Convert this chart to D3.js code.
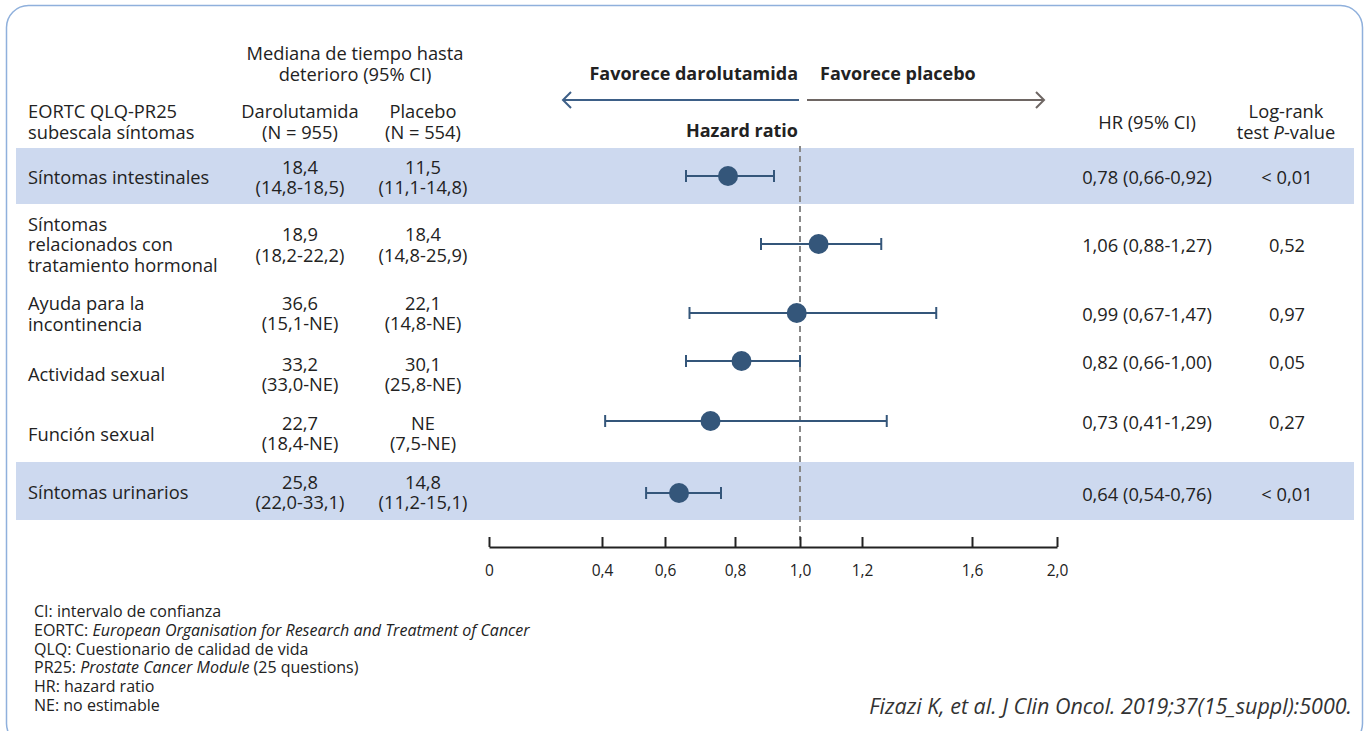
<!DOCTYPE html>
<html>
<head>
<meta charset="utf-8">
<script src="https://cdn.jsdelivr.net/npm/d3@7/dist/d3.min.js"></script>
<style>
  html, body { margin: 0; padding: 0; background: #fff; }
  svg { display: block; font-family: "Open Sans", "Noto Sans", sans-serif; }
</style>
</head>
<body>
<svg id="chart" width="1369" height="731"></svg>
<script>
// datos
var labels = [
    ['Síntomas intestinales'],
    ['Síntomas', 'relacionados con', 'tratamiento hormonal'],
    ['Ayuda para la', 'incontinencia'],
    ['Actividad sexual'],
    ['Función sexual'],
    ['Síntomas urinarios']
];
var daroMedian = ['18,4', '18,9', '36,6', '33,2', '22,7', '25,8'];
var daroCI = ['(14,8-18,5)', '(18,2-22,2)', '(15,1-NE)', '(33,0-NE)', '(18,4-NE)', '(22,0-33,1)'];
var placMedian = ['11,5', '18,4', '22,1', '30,1', 'NE', '14,8'];
var placCI = ['(11,1-14,8)', '(14,8-25,9)', '(14,8-NE)', '(25,8-NE)', '(7,5-NE)', '(11,2-15,1)'];
var hr = [0.78, 1.06, 0.99, 0.82, 0.73, 0.64];
var hrLow = [0.66, 0.88, 0.67, 0.66, 0.41, 0.54];
var hrHigh = [0.92, 1.27, 1.47, 1.00, 1.29, 0.76];
var pValues = ['< 0,01', '0,52', '0,97', '0,05', '0,27', '< 0,01'];
var shaded = [true, false, false, false, false, true];
var tickValues = [0, 0.4, 0.6, 0.8, 1.0, 1.2, 1.6, 2.0];
var footnotes = [
    [['CI: ', false], ['intervalo de confianza', false]],
    [['EORTC: ', false], ['European Organisation for Research and Treatment of Cancer', true]],
    [['QLQ: ', false], ['Cuestionario de calidad de vida', false]],
    [['PR25: ', false], ['Prostate Cancer Module', true], [' (25 questions)', false]],
    [['HR: ', false], ['hazard ratio', false]],
    [['NE: ', false], ['no estimable', false]]
];

var svg = d3.select('#chart');
var textColor = '#222';
var navy = '#34567a';
var fs = 18.3;

// marco redondeado
svg.append('rect')
    .attr('x', 6.5).attr('y', 5.5)
    .attr('width', 1356).attr('height', 740)
    .attr('rx', 22)
    .attr('fill', 'none')
    .attr('stroke', '#8fb0dc')
    .attr('stroke-width', 1.5);

// filas (alturas desiguales como en el original)
var rowTops = [148, 204, 283, 343, 403, 462, 520];
var dotY = [176, 244, 313, 361, 421, 493];

// escala del eje (no lineal en el original, por tramos)
var x = d3.scaleLinear()
    .domain(tickValues)
    .range([489, 602, 665, 735, 800, 862, 972, 1057]);

var fmt = function(v) { return d3.format('.2f')(v).replace('.', ','); };

// bandas sombreadas
svg.append('g').selectAll('rect')
    .data(d3.range(labels.length).filter(function(i) { return shaded[i]; }))
    .enter().append('rect')
    .attr('x', 16).attr('width', 1338)
    .attr('y', function(i) { return rowTops[i]; })
    .attr('height', function(i) { return rowTops[i + 1] - rowTops[i]; })
    .attr('fill', '#cdd9ef');

function addText(x0, y0, str, opts) {
    opts = opts || {};
    return svg.append('text')
        .attr('x', x0).attr('y', y0)
        .attr('text-anchor', opts.anchor || 'start')
        .attr('font-size', opts.size || fs)
        .attr('font-weight', opts.weight || 'normal')
        .attr('font-style', opts.style || 'normal')
        .attr('fill', opts.fill || textColor)
        .attr('dominant-baseline', 'central')
        .text(str);
}

// cabeceras
addText(355, 52, 'Mediana de tiempo hasta', {anchor: 'middle'});
addText(355, 73, 'deterioro (95% CI)', {anchor: 'middle'});
addText(28, 110, 'EORTC QLQ-PR25');
addText(28, 131, 'subescala síntomas');
addText(300, 110, 'Darolutamida', {anchor: 'middle'});
addText(300, 131, '(N = 955)', {anchor: 'middle'});
addText(423, 110, 'Placebo', {anchor: 'middle'});
addText(423, 131, '(N = 554)', {anchor: 'middle'});
addText(1147, 121, 'HR (95% CI)', {anchor: 'middle'});
addText(1286, 110, 'Log-rank', {anchor: 'middle'});
var pv = addText(1286, 131, 'test ', {anchor: 'middle'});
pv.append('tspan').attr('font-style', 'italic').text('P');
pv.append('tspan').text('-value');

addText(798, 73, 'Favorece darolutamida', {anchor: 'end', weight: 'bold', size: 18});
addText(820, 73, 'Favorece placebo', {weight: 'bold', size: 18});
addText(798, 130, 'Hazard ratio', {anchor: 'end', weight: 'bold', size: 18});

// flechas
svg.append('path')
    .attr('d', 'M799,100H563M571,92L563,100L571,108')
    .attr('fill', 'none').attr('stroke', '#3d5f87').attr('stroke-width', 2);
svg.append('path')
    .attr('d', 'M807,100H1044M1036,92L1044,100L1036,108')
    .attr('fill', 'none').attr('stroke', '#6e6663').attr('stroke-width', 2);

// texto de filas
labels.forEach(function(lines, i) {
    var cy = (rowTops[i] + rowTops[i + 1]) / 2;
    if (i === 3) cy = 373;
    if (i === 4) cy = 433;
    var start = cy - (lines.length - 1) * 20.5 / 2;
    lines.forEach(function(l, k) { addText(28, start + k * 20.5, l); });
    var vy = (i === 2) ? 312 : cy;
    if (i === 3) vy = 373;
    if (i === 4) vy = 432;
    addText(300, vy - 10, daroMedian[i], {anchor: 'middle'});
    addText(300, vy + 10.5, daroCI[i], {anchor: 'middle'});
    addText(423, vy - 10, placMedian[i], {anchor: 'middle'});
    addText(423, vy + 10.5, placCI[i], {anchor: 'middle'});
    addText(1147, dotY[i], fmt(hr[i]) + ' (' + fmt(hrLow[i]) + '-' + fmt(hrHigh[i]) + ')', {anchor: 'middle'});
    addText(1287, dotY[i], pValues[i], {anchor: 'middle'});
});

// línea de referencia en HR = 1
svg.append('line')
    .attr('x1', x(1)).attr('x2', x(1))
    .attr('y1', 146).attr('y2', 540)
    .attr('stroke', '#888').attr('stroke-width', 2)
    .attr('stroke-dasharray', '6,4');

// intervalos y puntos
var g = svg.append('g');
d3.range(hr.length).forEach(function(i) {
    var y = dotY[i];
    g.append('line')
        .attr('x1', x(hrLow[i])).attr('x2', x(hrHigh[i]))
        .attr('y1', y).attr('y2', y)
        .attr('stroke', navy).attr('stroke-width', 2);
    [hrLow[i], hrHigh[i]].forEach(function(v) {
        g.append('line')
            .attr('x1', x(v)).attr('x2', x(v))
            .attr('y1', y - 6).attr('y2', y + 6)
            .attr('stroke', navy).attr('stroke-width', 2);
    });
    g.append('circle')
        .attr('cx', x(hr[i])).attr('cy', y).attr('r', 10)
        .attr('fill', navy);
});

// eje
var axis = d3.axisTop(x)
    .tickValues(tickValues)
    .tickSize(10)
    .tickSizeOuter(0)
    .tickFormat(function(d) { return d === 0 ? '0' : d3.format('.1f')(d).replace('.', ','); });
var ax = svg.append('g').attr('transform', 'translate(0,547)').call(axis);
ax.select('.domain').attr('stroke', '#222').attr('stroke-width', 2);
ax.selectAll('.tick line').attr('stroke', '#222').attr('stroke-width', 2);
ax.selectAll('.tick text')
    .attr('y', 24).attr('dy', '0.32em')
    .attr('font-size', 15.5).attr('fill', textColor)
    .attr('font-family', '"Open Sans", sans-serif');

// notas al pie
footnotes.forEach(function(parts, k) {
    var t = svg.append('text')
        .attr('x', 34).attr('y', 611 + k * 18.8)
        .attr('dominant-baseline', 'central')
        .attr('font-size', 16).attr('fill', textColor);
    parts.forEach(function(p) {
        t.append('tspan').attr('font-style', p[1] ? 'italic' : 'normal').text(p[0]);
    });
});

addText(1352, 705, 'Fizazi K, et al. J Clin Oncol. 2019;37(15_suppl):5000.', {anchor: 'end', size: 21.5, style: 'italic', fill: '#333'});
</script>
</body>
</html>
